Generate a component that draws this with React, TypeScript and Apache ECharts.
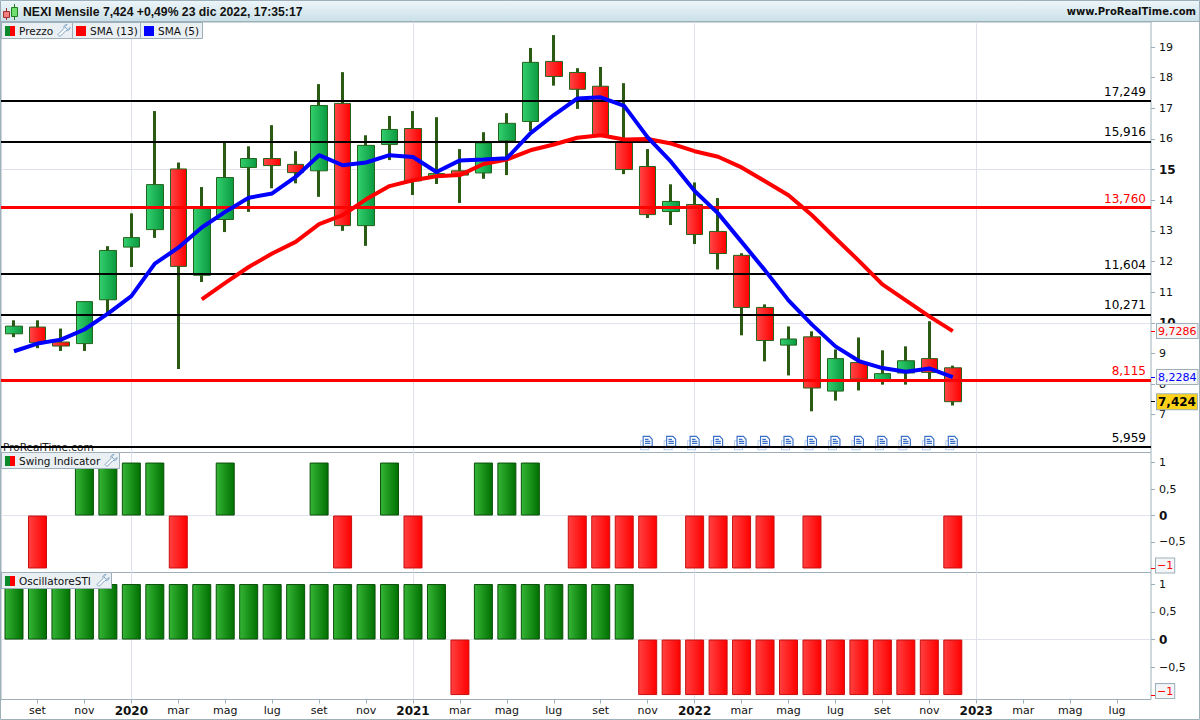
import React, { useEffect, useRef } from "react";
import * as echarts from "echarts";

const FONT = '"DejaVu Sans"';
const GREY = "#9db0ba";
const GRIDC = "#dfe2ea";

// index 0 = Aug 2019, one candle per month, [open, close, low, high]
const candles: number[][] = [
  [9.64, 9.89, 9.53, 10.08], [9.86, 9.35, 9.17, 10.08], [9.37, 9.24, 9.08, 9.81], [9.32, 10.69, 9.08, 10.69],
  [10.75, 12.36, 10.3, 12.5], [12.47, 12.78, 11.82, 13.57], [13.04, 14.51, 12.77, 16.91], [15.02, 11.84, 8.49, 15.23],
  [11.55, 13.79, 11.33, 14.43], [13.37, 14.74, 12.96, 15.87], [15.07, 15.36, 13.62, 15.76], [15.36, 15.13, 14.39, 16.45],
  [15.17, 14.9, 14.55, 15.6], [14.96, 17.09, 14.11, 17.79], [17.16, 13.17, 13.0, 18.18], [13.17, 15.79, 12.51, 16.12],
  [15.82, 16.31, 15.31, 16.75], [16.34, 14.63, 14.17, 16.91], [14.76, 14.87, 14.53, 16.71], [14.96, 14.82, 13.91, 15.67],
  [14.89, 15.87, 14.7, 16.22], [15.94, 16.51, 14.82, 16.84], [16.57, 18.5, 16.26, 18.97], [18.53, 18.04, 17.74, 19.39],
  [18.17, 17.62, 16.98, 18.31], [17.72, 16.13, 16.13, 18.35], [15.9, 15.0, 14.85, 17.82], [15.1, 13.53, 13.42, 15.67],
  [13.63, 13.96, 13.19, 14.52], [13.86, 12.88, 12.57, 14.58], [12.98, 12.26, 11.74, 14.07], [12.2, 10.5, 9.59, 12.27],
  [10.5, 9.42, 8.74, 10.6], [9.27, 9.47, 8.28, 9.88], [9.54, 7.87, 7.11, 9.72], [7.77, 8.83, 7.46, 9.13],
  [8.7, 8.16, 7.79, 9.52], [8.11, 8.34, 7.98, 9.1], [8.36, 8.76, 7.98, 9.23], [8.83, 8.38, 8.14, 10.05],
  [8.53, 7.424, 7.3, 8.6],
];
const sma5 = [9.07, 9.32, 9.45, 9.78, 10.3, 10.87, 11.93, 12.45, 13.11, 13.62, 14.08, 14.22, 14.76, 15.47, 15.14, 15.23, 15.47, 15.41, 14.92, 15.3, 15.33, 15.37, 16.18, 16.78, 17.32, 17.36, 17.08, 16.05, 15.25, 14.3, 13.57, 12.64, 11.71, 10.73, 9.94, 9.23, 8.75, 8.52, 8.4, 8.51, 8.2284];
const sma13 = [null, null, null, null, null, null, null, null, 10.76, 11.3, 11.82, 12.26, 12.64, 13.22, 13.51, 14.03, 14.46, 14.65, 14.78, 14.82, 15.18, 15.33, 15.63, 15.82, 16.04, 16.12, 15.98, 16.0, 15.85, 15.6, 15.42, 15.07, 14.62, 14.16, 13.51, 12.76, 12.02, 11.25, 10.73, 10.21, 9.7286];
const levels = [17.249, 15.916, 13.76, 11.604, 10.271, 8.115, 5.959];
const levelLabels = ["17,249", "15,916", "13,760", "11,604", "10,271", "8,115", "5,959"];
const levelColors = ["#000000", "#000000", "#ff0000", "#000000", "#000000", "#ff0000", "#000000"];
const swing = [null, -1, null, 1, 1, 1, 1, -1, null, 1, null, null, null, 1, -1, null, 1, -1, null, null, 1, 1, 1, null, -1, -1, -1, -1, null, -1, -1, -1, -1, null, -1, null, null, null, null, null, -1];
const sti = [1, 1, 1, 1, 1, 1, 1, 1, 1, 1, 1, 1, 1, 1, 1, 1, 1, 1, 1, -1, 1, 1, 1, 1, 1, 1, 1, -1, -1, -1, -1, -1, -1, -1, -1, -1, -1, -1, -1, -1, -1];
const xTicks = [1, 3, 5, 7, 9, 11, 13, 15, 17, 19, 21, 23, 25, 27, 29, 31, 33, 35, 37, 39, 41, 43, 45, 47];
const xLabels = ["set", "nov", "2020", "mar", "mag", "lug", "set", "nov", "2021", "mar", "mag", "lug", "set", "nov", "2022", "mar", "mag", "lug", "set", "nov", "2023", "mar", "mag", "lug"];
const yearTicks = [5, 17, 29, 41];
const priceTicks = [7, 8, 9, 10, 11, 12, 13, 14, 15, 16, 17, 18, 19];
const priceGrid = [10, 15];
const oscTicks = [-0.5, 0, 0.5, 1];
const oscGrid = [0];
const noteMonths = [27, 28, 29, 30, 31, 32, 33, 34, 35, 36, 37, 38, 39, 40];
const noteLevel = 6.13;
const lastValues = [
  { v: 9.7286, text: "9,7286", color: "#ff0000", bg: "#f3f5f6", bold: false },
  { v: 8.2284, text: "8,2284", color: "#0000ff", bg: "#f3f5f6", bold: false },
  { v: 7.424, text: "7,424", color: "#000000", bg: "#ffd21a", bold: true },
];

const X_MIN = -0.554;
const X_MAX = 48.445;
const PRICE_MIN = 5.765;
const PRICE_MAX = 19.817;

const GRIDS = [
  { left: 1, width: 1150, top: 22, height: 430.5 },
  { left: 1, width: 1150, top: 452.5, height: 120 },
  { left: 1, width: 1150, top: 572.5, height: 127 },
];
const OSC = [
  { min: -1.076, max: 1.19 },
  { min: -1.08, max: 1.208 },
];

const WRENCH = "M9 0a3 3 0 0 0-3 4L0 10l2 2 6-6a3 3 0 0 0 4-3l-2 2-2-1-1-2 2-2z";
const NOTE_SYMBOL = "path://M0 0H7L10 3V10H0ZM2 3H6M2 5H8M2 7H8";
const NOTE_BACK = "path://M0 0H10V10H0Z";
echarts.graphic.registerShape("wrench", (echarts.graphic as any).extendPath(WRENCH, {}));

const lg = (c0: string, c1: string) =>
  new echarts.graphic.LinearGradient(0, 0, 1, 0, [
    { offset: 0, color: c0 },
    { offset: 1, color: c1 },
  ]);

const fmtOsc = (v: number) => (v === 0 ? "{b|0}" : String(v).replace(".", ",").replace("-", "−"));
const OFF_LINE = { show: false, onZero: false };

function tab(x: number, y: number, w: number, label: string, icon: "duo" | "red" | "blue", wrench: boolean) {
  const els: any[] = [
    { type: "rect", z: 100, shape: { x: x + 0.5, y: y + 0.5, width: w, height: 16 }, style: { fill: "#e9eff3", stroke: GREY, lineWidth: 1 } },
  ];
  if (icon === "duo") {
    els.push({ type: "rect", z: 101, shape: { x: x + 4, y: y + 4, width: 5, height: 10 }, style: { fill: "#0a8a2a" } });
    els.push({ type: "rect", z: 101, shape: { x: x + 9, y: y + 4, width: 5, height: 10 }, style: { fill: "#ff0000" } });
  } else {
    els.push({ type: "rect", z: 101, shape: { x: x + 4, y: y + 4, width: 10, height: 10 }, style: { fill: icon === "red" ? "#ff0000" : "#0000ff" } });
  }
  els.push({ type: "text", z: 101, x: x + 18, y: y + 9, style: { text: label, font: `10.5px ${FONT}`, fill: "#111", textVerticalAlign: "middle" } });
  if (wrench) {
    els.push({ type: "wrench", z: 101, x: x + w - 14, y: y + 2.5, style: { fill: "#ffffff", stroke: "#7da3c4", lineWidth: 1 } });
  }
  return els;
}

export default function App() {
  const ref = useRef<HTMLDivElement>(null);
  useEffect(() => {
    document.body.style.margin = "0";
    const chart = echarts.init(ref.current!, undefined, { renderer: "svg" });

    const hiddenAxisBase = { type: "value", min: X_MIN, max: X_MAX, axisLine: OFF_LINE, splitLine: { show: false } };
    const xAxis: any[] = [];
    GRIDS.forEach((_, g) => {
      const bottom = g === 2;
      xAxis.push({
        ...hiddenAxisBase,
        gridIndex: g,
        position: "bottom",
        axisTick: { show: bottom, length: 4, lineStyle: { color: GREY }, customValues: xTicks },
        axisLabel: {
          show: bottom,
          customValues: xTicks,
          margin: 5,
          color: "#111",
          fontSize: 11,
          fontFamily: FONT,
          formatter: (v: number) => {
            const s = xLabels[xTicks.indexOf(v)] ?? "";
            return /^\d/.test(s) ? `{y|${s}}` : s;
          },
          rich: { y: { fontWeight: "bold", fontSize: 12, fontFamily: FONT, color: "#111" } },
        },
      });
      xAxis.push({
        ...hiddenAxisBase,
        gridIndex: g,
        position: "bottom",
        axisTick: { show: false, customValues: yearTicks },
        axisLabel: { show: false, customValues: yearTicks },
        splitLine: { show: true, lineStyle: { color: GRIDC, width: 1 } },
      });
    });

    const tickAxis = (g: number, min: number, max: number, vals: number[], fmt: (v: number) => string) => ({
      type: "value",
      gridIndex: g,
      position: "right",
      min,
      max,
      axisLine: OFF_LINE,
      splitLine: { show: false },
      axisTick: { show: true, length: 4, lineStyle: { color: GREY }, customValues: vals },
      axisLabel: {
        customValues: vals,
        margin: 8,
        color: "#111",
        fontSize: 11,
        fontFamily: FONT,
        formatter: fmt,
        rich: { b: { fontWeight: "bold", fontSize: 12, fontFamily: FONT, color: "#111" } },
      },
    });
    const gridAxis = (g: number, min: number, max: number, vals: number[]) => ({
      type: "value",
      gridIndex: g,
      position: "right",
      min,
      max,
      axisLine: OFF_LINE,
      axisTick: { show: false, customValues: vals },
      axisLabel: { show: false, customValues: vals },
      splitLine: { show: true, lineStyle: { color: GRIDC, width: 1 } },
    });
    const boxAxis = (
      g: number,
      min: number,
      max: number,
      v: number,
      text: string,
      color: string,
      bg: string,
      bold: boolean,
      lift: number,
      margin: number,
      padX: number
    ) => ({
      type: "value",
      gridIndex: g,
      position: "right",
      min,
      max,
      axisLine: OFF_LINE,
      splitLine: { show: false },
      axisTick: { show: true, length: 4, lineStyle: { color, width: 1 }, customValues: [v] },
      axisLabel: {
        customValues: [v],
        margin,
        formatter: () => `{t|${text}}`,
        padding: [0, 0, lift, 0],
        rich: {
          t: {
            color,
            backgroundColor: bg,
            borderColor: GREY,
            borderWidth: 1,
            padding: [2, padX, 1, padX],
            fontSize: bold ? 12 : 11,
            fontWeight: bold ? "bold" : "normal",
            fontFamily: FONT,
          },
        },
      },
    });

    const yAxis: any[] = [
      tickAxis(0, PRICE_MIN, PRICE_MAX, priceTicks, (v) => (v === 10 || v === 15 ? `{b|${v}}` : String(v))),
      gridAxis(0, PRICE_MIN, PRICE_MAX, priceGrid),
      ...lastValues.map((l) => boxAxis(0, PRICE_MIN, PRICE_MAX, l.v, l.text, l.color, l.bg, l.bold, 0, 6, 1)),
      tickAxis(1, OSC[0].min, OSC[0].max, oscTicks, fmtOsc),
      gridAxis(1, OSC[0].min, OSC[0].max, oscGrid),
      boxAxis(1, OSC[0].min, OSC[0].max, -1, "−1", "#ff0000", "#f3f5f6", false, 6, 5, 1),
      tickAxis(2, OSC[1].min, OSC[1].max, oscTicks, fmtOsc),
      gridAxis(2, OSC[1].min, OSC[1].max, oscGrid),
      boxAxis(2, OSC[1].min, OSC[1].max, -1, "−1", "#ff0000", "#f3f5f6", false, 8, 5, 1),
    ];

    const oscData = (arr: (number | null)[]) =>
      arr.map((v, i) =>
        v === null
          ? { value: [i, null] }
          : {
              value: [i, v],
              itemStyle:
                v > 0
                  ? { color: lg("#35b535", "#006f00"), borderColor: "#0b4f0b", borderWidth: 1 }
                  : { color: lg("#ff4040", "#ff0000"), borderColor: "#c81010", borderWidth: 1 },
            }
      );

    const series: any[] = [
      {
        name: "Prezzo wick",
        type: "candlestick",
        xAxisIndex: 0,
        yAxisIndex: 0,
        z: 2,
        silent: true,
        barWidth: 1,
        data: candles.map((c, i) => [i, c[0], c[1], c[2], c[3]]),
        itemStyle: { color: "#2a5a14", color0: "#2a5a14", borderColor: "#2a5a14", borderColor0: "#2a5a14", borderWidth: 3 },
      },
      {
        name: "Prezzo",
        type: "candlestick",
        xAxisIndex: 0,
        yAxisIndex: 0,
        z: 3,
        silent: true,
        barWidth: 17,
        data: candles.map((c, i) => [i, c[0], c[1], Math.min(c[0], c[1]), Math.max(c[0], c[1])]),
        itemStyle: {
          color: lg("#33cf6e", "#0a9a40"),
          color0: lg("#ff4646", "#ff0000"),
          borderColor: "#25641c",
          borderColor0: "#25641c",
          borderWidth: 1,
        },
        markLine: {
          silent: true,
          symbol: "none",
          z: 4,
          data: levels.map((v, i) => ({
            yAxis: v,
            lineStyle: { color: levelColors[i], width: levelColors[i] === "#ff0000" ? 3 : 2, type: "solid" },
            label: {
              show: true,
              position: "insideEndTop",
              distance: [5, 3],
              formatter: levelLabels[i],
              color: levelColors[i],
              fontSize: 12,
              fontFamily: FONT,
            },
          })),
        },
      },
      {
        name: "SMA (13)",
        type: "line",
        xAxisIndex: 0,
        yAxisIndex: 0,
        z: 6,
        showSymbol: false,
        connectNulls: false,
        data: sma13.map((v, i) => [i, v]),
        lineStyle: { color: "#ff0000", width: 4 },
      },
      {
        name: "SMA (5)",
        type: "line",
        xAxisIndex: 0,
        yAxisIndex: 0,
        z: 7,
        showSymbol: false,
        data: sma5.map((v, i) => [i, v]),
        lineStyle: { color: "#0000ff", width: 4 },
      },
      {
        name: "Note back",
        type: "scatter",
        xAxisIndex: 0,
        yAxisIndex: 0,
        z: 2,
        silent: true,
        symbol: NOTE_BACK,
        symbolSize: [8, 9],
        symbolOffset: [-3, 4],
        data: noteMonths.map((m) => [m, noteLevel]),
        itemStyle: { color: "#ffffff", borderColor: "#b7cbec", borderWidth: 1, opacity: 1 },
      },
      {
        name: "Note",
        type: "scatter",
        xAxisIndex: 0,
        yAxisIndex: 0,
        z: 3,
        silent: true,
        symbol: NOTE_SYMBOL,
        symbolSize: [9, 10],
        data: noteMonths.map((m) => [m, noteLevel]),
        itemStyle: { color: "#ffffff", borderColor: "#3a6fc8", borderWidth: 1.2, opacity: 1 },
      },
      {
        name: "Swing Indicator",
        type: "bar",
        xAxisIndex: 2,
        yAxisIndex: 5,
        barWidth: 19,
        silent: true,
        data: oscData(swing),
      },
      {
        name: "OscillatoreSTI",
        type: "bar",
        xAxisIndex: 4,
        yAxisIndex: 8,
        barWidth: 19,
        silent: true,
        data: oscData(sti),
      },
    ];

    const graphic: any[] = [
      {
        type: "rect",
        z: 100,
        shape: { x: 0, y: 0, width: 1200, height: 21 },
        style: {
          fill: new echarts.graphic.LinearGradient(0, 0, 0, 1, [
            { offset: 0, color: "#eef6f9" },
            { offset: 1, color: "#cbe0e8" },
          ]),
        },
      },
      { type: "line", z: 101, shape: { x1: 0, y1: 21.5, x2: 1200, y2: 21.5 }, style: { stroke: GREY, lineWidth: 1 } },
      { type: "rect", z: 102, shape: { x: 0.5, y: 0.5, width: 1199, height: 719 }, style: { fill: "none", stroke: GREY, lineWidth: 1 } },
      // header logo
      { type: "line", z: 101, shape: { x1: 6.5, y1: 8, x2: 6.5, y2: 20 }, style: { stroke: "#a03030", lineWidth: 1 } },
      { type: "rect", z: 102, shape: { x: 3.5, y: 11.5, width: 6, height: 6 }, style: { fill: "#f08080", stroke: "#a03030", lineWidth: 1 } },
      { type: "line", z: 101, shape: { x1: 14.5, y1: 4, x2: 14.5, y2: 20 }, style: { stroke: "#208020", lineWidth: 1 } },
      { type: "rect", z: 102, shape: { x: 11.5, y: 7.5, width: 6, height: 9 }, style: { fill: "#70e070", stroke: "#208020", lineWidth: 1 } },
      {
        type: "text",
        z: 101,
        x: 23,
        y: 11.5,
        style: { text: "NEXI Mensile 7,424 +0,49% 23 dic 2022, 17:35:17", font: `bold 12.2px "Liberation Sans"`, fill: "#111", textVerticalAlign: "middle" },
      },
      {
        type: "text",
        z: 101,
        x: 1196,
        y: 11.5,
        style: { text: "www.ProRealTime.com", font: `bold 10px ${FONT}`, fill: "#111", textAlign: "right", textVerticalAlign: "middle" },
      },
      ...tab(1, 22, 71, "Prezzo", "duo", true),
      ...tab(72, 22, 68, "SMA (13)", "red", false),
      ...tab(140, 22, 62, "SMA (5)", "blue", false),
      ...tab(1, 452, 118, "Swing Indicator", "duo", true),
      ...tab(1, 572, 110, "OscillatoreSTI", "duo", true),
      { type: "text", z: 1, x: 3, y: 441, style: { text: "ProRealTime.com", font: `10.5px ${FONT}`, fill: "#222" } },
    ];

    chart.setOption({
      animation: false,
      backgroundColor: "#ffffff",
      grid: GRIDS.map((g) => ({
        ...g,
        show: true,
        borderColor: GREY,
        borderWidth: 1,
        backgroundColor: "transparent",
        containLabel: false,
        outerBoundsMode: "none",
      })),
      xAxis,
      yAxis,
      series,
      graphic,
    });
    return () => chart.dispose();
  }, []);
  return <div ref={ref} style={{ width: 1200, height: 720 }} />;
}
